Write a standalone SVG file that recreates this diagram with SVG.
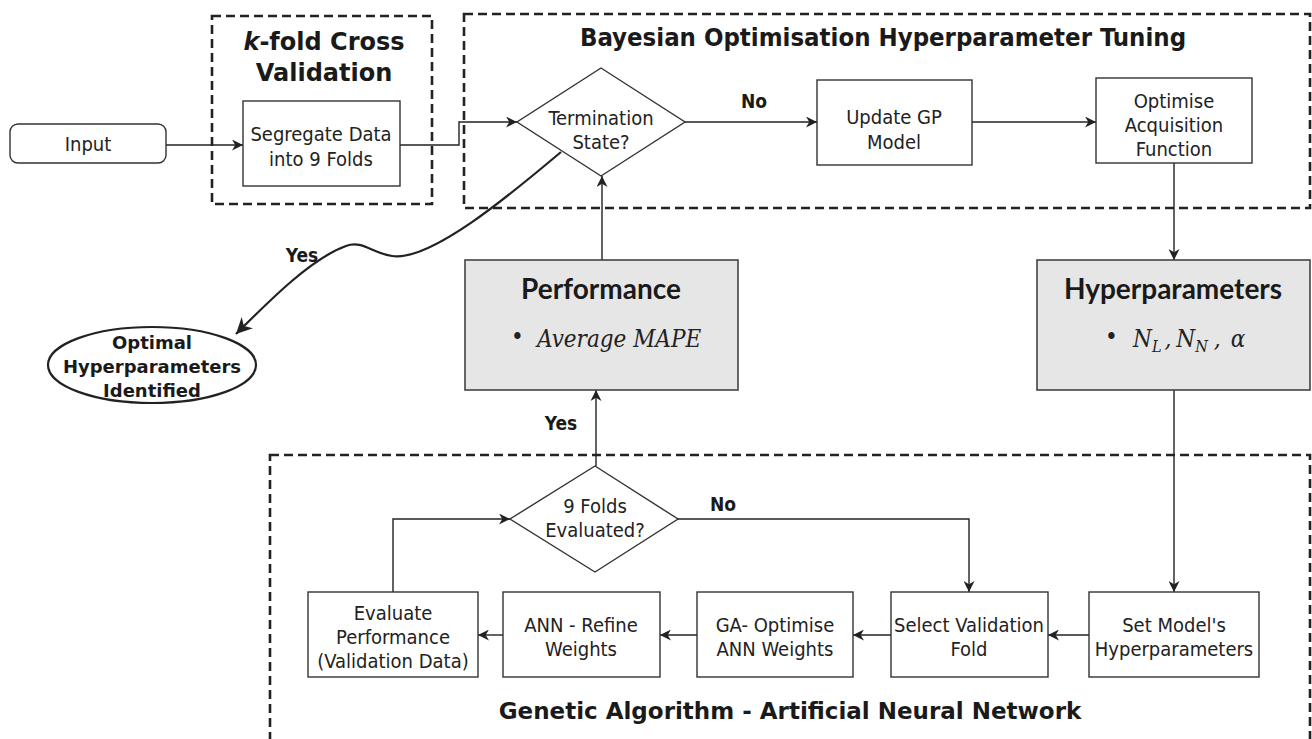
<svg xmlns="http://www.w3.org/2000/svg" width="1312" height="739" viewBox="0 0 1312 739">
<style>
.bg{fill:#fff}
.box{fill:#fff;stroke:#333;stroke-width:1.4}
.grey{fill:#e6e6e6;stroke:#444;stroke-width:1.6}
.dash{fill:none;stroke:#222;stroke-width:2.6;stroke-dasharray:9 5}
.t{font-family:'DejaVu Sans Condensed','DejaVu Sans',sans-serif;font-stretch:condensed;font-size:20px;fill:#222;text-anchor:middle}
.tb{font-family:'DejaVu Sans',sans-serif;font-weight:bold;fill:#1a1a1a;text-anchor:middle}
.tc{font-family:'DejaVu Sans Condensed','DejaVu Sans',sans-serif;font-stretch:condensed;font-weight:bold;fill:#1a1a1a;text-anchor:middle}
.cal{font-family:Lato,'Open Sans',sans-serif;font-weight:bold;font-size:28px;fill:#1a1a1a;text-anchor:middle}
.mth{font-family:'DejaVu Serif','Liberation Serif',serif;font-style:italic;font-stretch:condensed;font-size:24px;fill:#222}
.ln{fill:none;stroke:#222;stroke-width:1.4}
</style>
<defs>
<marker id="arr" viewBox="0 0 10 10" refX="10" refY="5" markerWidth="11" markerHeight="11" orient="auto" markerUnits="userSpaceOnUse"><path d="M0,0 L10,5 L0,10 L3,5 z" fill="#222"/></marker>
<marker id="arrB" viewBox="0 0 10 10" refX="10" refY="5" markerWidth="16" markerHeight="16" orient="auto" markerUnits="userSpaceOnUse"><path d="M0,0 L10,5 L0,10 L3,5 z" fill="#222"/></marker>
</defs>
<rect class="bg" x="0" y="0" width="1312" height="739"/>

<g id="group-kfold">
<rect class="dash" x="212" y="16" width="220" height="188"/>
<text class="tb" font-size="24" x="324" y="50"><tspan font-style="italic">k</tspan>-fold Cross</text>
<text class="tb" font-size="24" x="324" y="81">Validation</text>
</g>
<g id="group-bayes">
<rect class="dash" x="464" y="14" width="846" height="194"/>
<text class="tc" font-size="25.5" x="883" y="46">Bayesian Optimisation Hyperparameter Tuning</text>
</g>
<g id="group-ga">
<rect class="dash" x="270" y="455" width="1040" height="300"/>
<text class="tb" font-size="23" x="790" y="719">Genetic Algorithm - Artificial Neural Network</text>
</g>

<g id="connectors">
<path class="ln" d="M166,145 H243" marker-end="url(#arr)"/>
<path class="ln" d="M400,145 H459 V122 H517" marker-end="url(#arr)"/>
<path class="ln" d="M685,122 H817" marker-end="url(#arr)"/>
<path class="ln" d="M972,122 H1096" marker-end="url(#arr)"/>
<path class="ln" d="M1174,163 V260" marker-end="url(#arr)"/>
<path class="ln" d="M1174,390 V592" marker-end="url(#arr)"/>
<path class="ln" d="M1089,635 H1048" marker-end="url(#arr)"/>
<path class="ln" d="M891,635 H853" marker-end="url(#arr)"/>
<path class="ln" d="M697,635 H660" marker-end="url(#arr)"/>
<path class="ln" d="M503,635 H478" marker-end="url(#arr)"/>
<path class="ln" d="M393,592 V519 H510" marker-end="url(#arr)"/>
<path class="ln" d="M678,519 H969 V592" marker-end="url(#arr)"/>
<path class="ln" d="M596,466 V390" marker-end="url(#arr)"/>
<path class="ln" d="M602,260 V176" marker-end="url(#arr)"/>
<path fill="none" stroke="#222" stroke-width="2.2" d="M561,152 C510,195 430,262 392,256 C372,253 362,240 346,246 C312,258 270,300 236,334" marker-end="url(#arrB)"/>
<text class="tc" font-size="19" x="754" y="108">No</text>
<text class="tc" font-size="19" x="723" y="511">No</text>
<text class="tc" font-size="19" x="302" y="262">Yes</text>
<text class="tc" font-size="19" x="561" y="430">Yes</text>
</g>

<g id="node-input">
<rect class="box" x="10" y="124" width="156" height="39" rx="8"/>
<text class="t" x="88" y="151">Input</text>
</g>
<g id="node-segregate">
<rect class="box" x="243" y="101" width="157" height="85"/>
<text class="t" x="321" y="141">Segregate Data</text>
<text class="t" x="321" y="166">into 9 Folds</text>
</g>
<g id="node-termination">
<polygon class="box" points="601,68 685,122 601,176 517,122"/>
<text class="t" x="601" y="125">Termination</text>
<text class="t" x="601" y="149">State?</text>
</g>
<g id="node-updategp">
<rect class="box" x="817" y="80" width="155" height="85"/>
<text class="t" x="894" y="124">Update GP</text>
<text class="t" x="894" y="149">Model</text>
</g>
<g id="node-optimise">
<rect class="box" x="1096" y="78" width="156" height="85"/>
<text class="t" x="1174" y="108">Optimise</text>
<text class="t" x="1174" y="132">Acquisition</text>
<text class="t" x="1174" y="156">Function</text>
</g>
<g id="node-optimal">
<ellipse fill="#fff" stroke="#222" stroke-width="2.2" cx="152" cy="365" rx="104" ry="38"/>
<text class="tb" font-size="18" x="152" y="349">Optimal</text>
<text class="tb" font-size="18" x="152" y="373">Hyperparameters</text>
<text class="tb" font-size="18" x="152" y="397">Identified</text>
</g>
<g id="node-performance">
<rect class="grey" x="465" y="260" width="273" height="130"/>
<text class="cal" x="601" y="299">Performance</text>
<text class="mth" x="511" y="345" font-style="normal">•</text>
<text class="mth" x="537" y="347">Average MAPE</text>
</g>
<g id="node-hyperparameters">
<rect class="grey" x="1037" y="260" width="273" height="130"/>
<text class="cal" x="1173" y="299">Hyperparameters</text>
<text class="mth" x="1105" y="345" font-style="normal">•</text>
<text class="mth" x="1133" y="347" font-size="25">N<tspan font-size="16" dy="5">L</tspan><tspan dy="-5" dx="3">,</tspan><tspan dx="5">N</tspan><tspan font-size="16" dy="5">N</tspan><tspan dy="-5" dx="6">,</tspan><tspan dx="10">α</tspan></text>
</g>
<g id="node-ninefolds">
<polygon class="box" points="595,466 678,519 595,572 510,519"/>
<text class="t" x="595" y="513">9 Folds</text>
<text class="t" x="595" y="537">Evaluated?</text>
</g>
<g id="node-evaluate">
<rect class="box" x="308" y="592" width="170" height="85"/>
<text class="t" x="393" y="620">Evaluate</text>
<text class="t" x="393" y="644">Performance</text>
<text class="t" x="393" y="668">(Validation Data)</text>
</g>
<g id="node-ann">
<rect class="box" x="503" y="592" width="157" height="85"/>
<text class="t" x="581" y="632">ANN - Refine</text>
<text class="t" x="581" y="656">Weights</text>
</g>
<g id="node-ga">
<rect class="box" x="697" y="592" width="156" height="85"/>
<text class="t" x="775" y="632">GA- Optimise</text>
<text class="t" x="775" y="656">ANN Weights</text>
</g>
<g id="node-select">
<rect class="box" x="891" y="592" width="157" height="85"/>
<text class="t" x="969" y="632">Select Validation</text>
<text class="t" x="969" y="656">Fold</text>
</g>
<g id="node-setmodel">
<rect class="box" x="1089" y="592" width="170" height="85"/>
<text class="t" x="1174" y="632">Set Model's</text>
<text class="t" x="1174" y="656">Hyperparameters</text>
</g>
</svg>
